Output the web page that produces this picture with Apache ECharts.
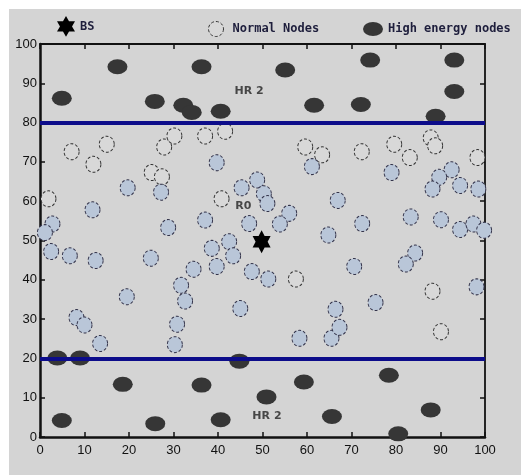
<!DOCTYPE html>
<html>
<head>
<meta charset="utf-8">
<script src="https://cdn.jsdelivr.net/npm/echarts@6/dist/echarts.min.js"></script>
<style>html,body{margin:0;padding:0;background:#d4d4d4;overflow:hidden;}#chart{width:521px;height:475px;}</style>
</head>
<body>
<div id="chart"></div>
<script>
// ---- data ----
const bsNode = [[49.8, 49.7]];

const highEnergyNodes = [
  [4.9, 86.2], [17.4, 94.2], [25.8, 85.4], [32.2, 84.4], [34.1, 82.6], [40.6, 82.9],
  [36.3, 94.2], [55.1, 93.4], [61.6, 84.4], [74.2, 95.9], [93.1, 95.9], [93.1, 87.9],
  [72.1, 84.6], [88.9, 81.6],
  [3.9, 20.1], [9.0, 20.1], [18.6, 13.4], [4.9, 4.2], [25.9, 3.4], [44.8, 19.3],
  [36.3, 13.2], [50.9, 10.2], [40.6, 4.4], [59.3, 14.0], [65.6, 5.2], [78.4, 15.7],
  [87.8, 6.9], [80.5, 0.8]
];

const normalNodesGrey = [
  [7.1, 72.6], [12.0, 69.4], [15.0, 74.5], [25.1, 67.3], [27.4, 66.2], [27.9, 73.8],
  [30.2, 76.6], [37.1, 76.6], [41.6, 77.8], [59.6, 73.8], [63.4, 71.8], [72.3, 72.6],
  [79.6, 74.5], [83.1, 71.1], [87.8, 76.1], [88.8, 74.1], [98.3, 71.1], [1.9, 60.6],
  [40.8, 60.6], [57.5, 40.2], [88.2, 37.1], [90.1, 26.8]
];

const normalNodesBlue = [
  [39.7, 69.8], [48.8, 65.4], [61.1, 68.8], [79.0, 67.3], [92.5, 68.0], [89.7, 66.1],
  [11.8, 57.8], [19.7, 63.4], [27.2, 62.3], [2.8, 54.2], [1.1, 52.0], [2.5, 47.2],
  [6.7, 46.1], [12.5, 44.9], [24.9, 45.5], [28.8, 53.3], [19.5, 35.7], [31.7, 38.6],
  [8.2, 30.4], [10.0, 28.5], [13.5, 23.8], [30.8, 28.7], [30.3, 23.5], [45.0, 32.7],
  [58.3, 25.1], [65.5, 25.1], [67.3, 27.9], [66.4, 32.5], [45.3, 63.4], [50.3, 61.9],
  [51.1, 59.4], [56.0, 56.9], [53.9, 54.2], [47.0, 54.3], [37.1, 55.2], [66.9, 60.2],
  [64.8, 51.4], [42.5, 49.7], [38.6, 48.0], [43.4, 46.1], [39.7, 43.4], [34.5, 42.7],
  [47.6, 42.1], [51.3, 40.2], [32.6, 34.6], [88.2, 63.1], [94.4, 64.0], [98.5, 63.1],
  [83.3, 56.0], [90.1, 55.3], [72.4, 54.3], [94.4, 52.8], [97.4, 54.2], [99.8, 52.6],
  [84.3, 46.8], [82.2, 44.0], [70.6, 43.4], [98.1, 38.2], [75.4, 34.2]
];

const hrLines = [20, 80];

const annotations = [
  [47.0, 88.0, 'HR 2'],
  [51.0, 5.2, 'HR 2'],
  [45.7, 58.7, 'R0']
];

// ---- styling ----
const starPath = 'path://M50 0L64.5 24.9L93.3 25L79 50L93.3 75L64.5 75.1L50 100L35.5 75.1L6.7 75L21 50L6.7 25L35.5 24.9Z';
const ellipsePath = 'path://M0,7A10,7,0,1,1,20,7A10,7,0,1,1,0,7Z';
const axisColor = '#111';
const labelFont = { color: '#111', fontSize: 13, fontFamily: 'Liberation Sans' };
const legendText = { color: '#1e1e3c', fontSize: 12, fontWeight: 'bold', fontFamily: 'DejaVu Sans Mono' };
const greyStyle = { color: '#d8d8d8', borderColor: '#333', borderWidth: 1, borderType: [3, 2], opacity: 1 };
const blueStyle = { color: '#b9c6d8', borderColor: '#33334a', borderWidth: 1, borderType: [3, 2], opacity: 1 };

function axisBase(pos, showLabel, lw) {
  return {
    type: 'value', min: 0, max: 100, interval: 10, position: pos,
    axisLine: { show: true, onZero: false, lineStyle: { color: axisColor, width: lw } },
    axisTick: { show: true, inside: true, length: 5, lineStyle: { color: axisColor, width: 1.5 } },
    axisLabel: Object.assign({ show: showLabel, margin: 5 }, labelFont),
    splitLine: { show: false }
  };
}

const chart = echarts.init(document.getElementById('chart'), null, { renderer: 'canvas' });
const xBottom = axisBase('bottom', true, 2.5); xBottom.axisLabel.margin = 7;
const yLeft = axisBase('left', true, 2.5); yLeft.axisLabel.margin = 3;

chart.setOption({
  backgroundColor: '#d4d4d4',
  animation: false,
  graphic: [
    { type: 'rect', z: -10, silent: true, shape: { x: 0, y: 0, width: 521, height: 9 }, style: { fill: '#ffffff' } },
    { type: 'rect', z: -10, silent: true, shape: { x: 0, y: 0, width: 9, height: 475 }, style: { fill: '#ffffff' } }
  ],
  grid: { left: 40, right: 36, top: 44, bottom: 38 },
  xAxis: [xBottom, axisBase('top', false, 1.8)],
  yAxis: [yLeft, axisBase('right', false, 1.8)],
  legend: [
    { data: [{ name: 'BS', icon: starPath }], left: 57, top: 16, padding: 0, itemWidth: 18, itemHeight: 23,
      selectedMode: false, textStyle: legendText, itemGap: 0 },
    { data: [{ name: 'Normal Nodes', icon: 'circle', itemStyle: greyStyle }], left: 208, top: 21, padding: 0,
      itemWidth: 15, itemHeight: 16, selectedMode: false, textStyle: Object.assign({ padding: [0, 0, 0, 4] }, legendText) },
    { data: [{ name: 'High energy nodes', icon: ellipsePath }], left: 363, top: 22, padding: 0,
      itemWidth: 20, itemHeight: 14, selectedMode: false, textStyle: legendText }
  ],
  series: [
    {
      name: 'HR lines', type: 'line', data: [], silent: true,
      markLine: {
        silent: true, symbol: 'none', label: { show: false },
        lineStyle: { color: '#0c0c8a', width: 4, type: 'solid', opacity: 1 },
        data: hrLines.map(v => ({ yAxis: v }))
      }
    },
    {
      name: 'Normal Nodes', type: 'scatter', data: normalNodesGrey,
      symbol: 'circle', symbolSize: [15, 16], itemStyle: greyStyle, z: 3
    },
    {
      name: 'Normal Nodes', type: 'scatter', data: normalNodesBlue,
      symbol: 'circle', symbolSize: [15, 16], itemStyle: blueStyle, z: 3
    },
    {
      name: 'High energy nodes', type: 'scatter', data: highEnergyNodes,
      symbol: 'circle', symbolSize: [20, 15], itemStyle: { color: '#363636', opacity: 1 }, z: 4
    },
    {
      name: 'BS', type: 'scatter', data: bsNode,
      symbol: starPath, symbolSize: [18, 23], itemStyle: { color: '#000', opacity: 1 }, z: 5
    },
    {
      name: 'labels', type: 'scatter', data: annotations, symbolSize: 1,
      itemStyle: { color: 'rgba(0,0,0,0)' }, silent: true, z: 6,
      label: {
        show: true, position: 'inside', formatter: p => p.value[2],
        color: '#222', fontSize: 11, fontWeight: 'bold', fontFamily: 'DejaVu Sans'
      }
    }
  ]
});
</script>
</body>
</html>
